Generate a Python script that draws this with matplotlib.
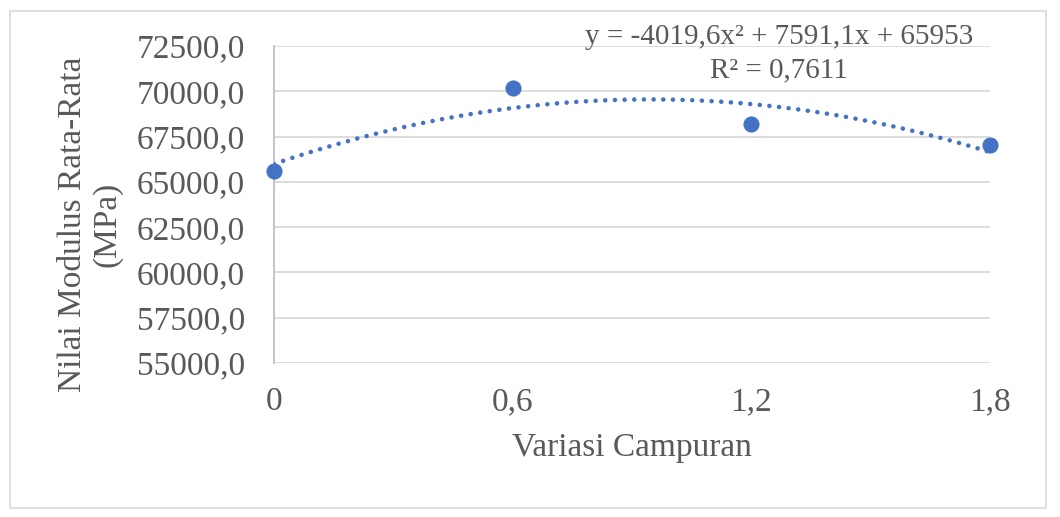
import numpy as np
import matplotlib
matplotlib.use("Agg")
import matplotlib.pyplot as plt
from matplotlib.patches import Rectangle

x_vals = [0.0, 0.6, 1.2, 1.8]
y_vals = [65620, 70180, 68190, 67010]
x_ticks = [0.0, 0.6, 1.2, 1.8]
x_tick_labels = ["0", "0,6", "1,2", "1,8"]
y_ticks = [55000, 57500, 60000, 62500, 65000, 67500, 70000, 72500]
y_tick_labels = ["55000,0", "57500,0", "60000,0", "62500,0", "65000,0", "67500,0", "70000,0", "72500,0"]
equation = "y = -4019,6x² + 7591,1x + 65953"
r2_text = "R² = 0,7611"

plt.rcParams['font.family'] = ['Liberation Serif', 'DejaVu Serif']
gray = "#595959"
blue = "#4472C4"

fig = plt.figure(figsize=(10.6, 5.17), dpi=100)
fig.patches.append(Rectangle((10/1060, 1 - 508/517), 1036/1060, 497/517,
                             transform=fig.transFigure, fill=False,
                             edgecolor="#d9d9d9", linewidth=1.2))
ax = fig.add_axes([274/1060, 1 - 363/517, (990-274)/1060, (363-46)/517])

coef = np.polyfit(x_vals, y_vals, 2)
xs = np.linspace(0, 1.8, 300)
ax.plot(xs, np.polyval(coef, xs), linestyle=(0, (0.01, 2.1)), color=blue,
        linewidth=3.3, dash_capstyle='round', zorder=3)
ax.scatter(x_vals, y_vals, s=135, color=blue, zorder=4, clip_on=False,
           linewidths=0)

ax.set_xlim(0, 1.8)
ax.set_ylim(55000, 72500)
ax.set_xticks(x_ticks)
ax.set_xticklabels(x_tick_labels)
ax.set_yticks(y_ticks)
ax.set_yticklabels(y_tick_labels)
ax.tick_params(axis='both', length=0, labelsize=24, colors=gray)
ax.tick_params(axis='x', pad=17)
ax.tick_params(axis='y', pad=21)
ax.grid(axis='y', color="#d9d9d9", linewidth=1.3)
ax.set_axisbelow(True)
for s in ['top', 'right', 'bottom']:
    ax.spines[s].set_visible(False)
ax.spines['left'].set_color("#bfbfbf")
ax.spines['left'].set_linewidth(1.3)

ax.set_xlabel("Variasi Campuran", fontsize=24, color=gray)
ax.xaxis.set_label_coords((632 - 274) / 716, (363 - 448) / 317)
ax.xaxis.label.set_va('center')
ax.set_ylabel("Nilai Modulus Rata-Rata\n(MPa)", fontsize=24, color=gray,
              linespacing=1.15)
ax.yaxis.set_label_coords((90 - 274) / 716, (363 - 224) / 317)
ax.yaxis.label.set_va('center')

ax.text((779.5 - 274) / 716, (363 - 37) / 317, equation, transform=ax.transAxes,
        fontsize=21, color=gray, ha='center', va='center')
ax.text((778.5 - 274) / 716, (363 - 70) / 317, r2_text, transform=ax.transAxes,
        fontsize=21, color=gray, ha='center', va='center')

fig.savefig("out.png", dpi=100)
